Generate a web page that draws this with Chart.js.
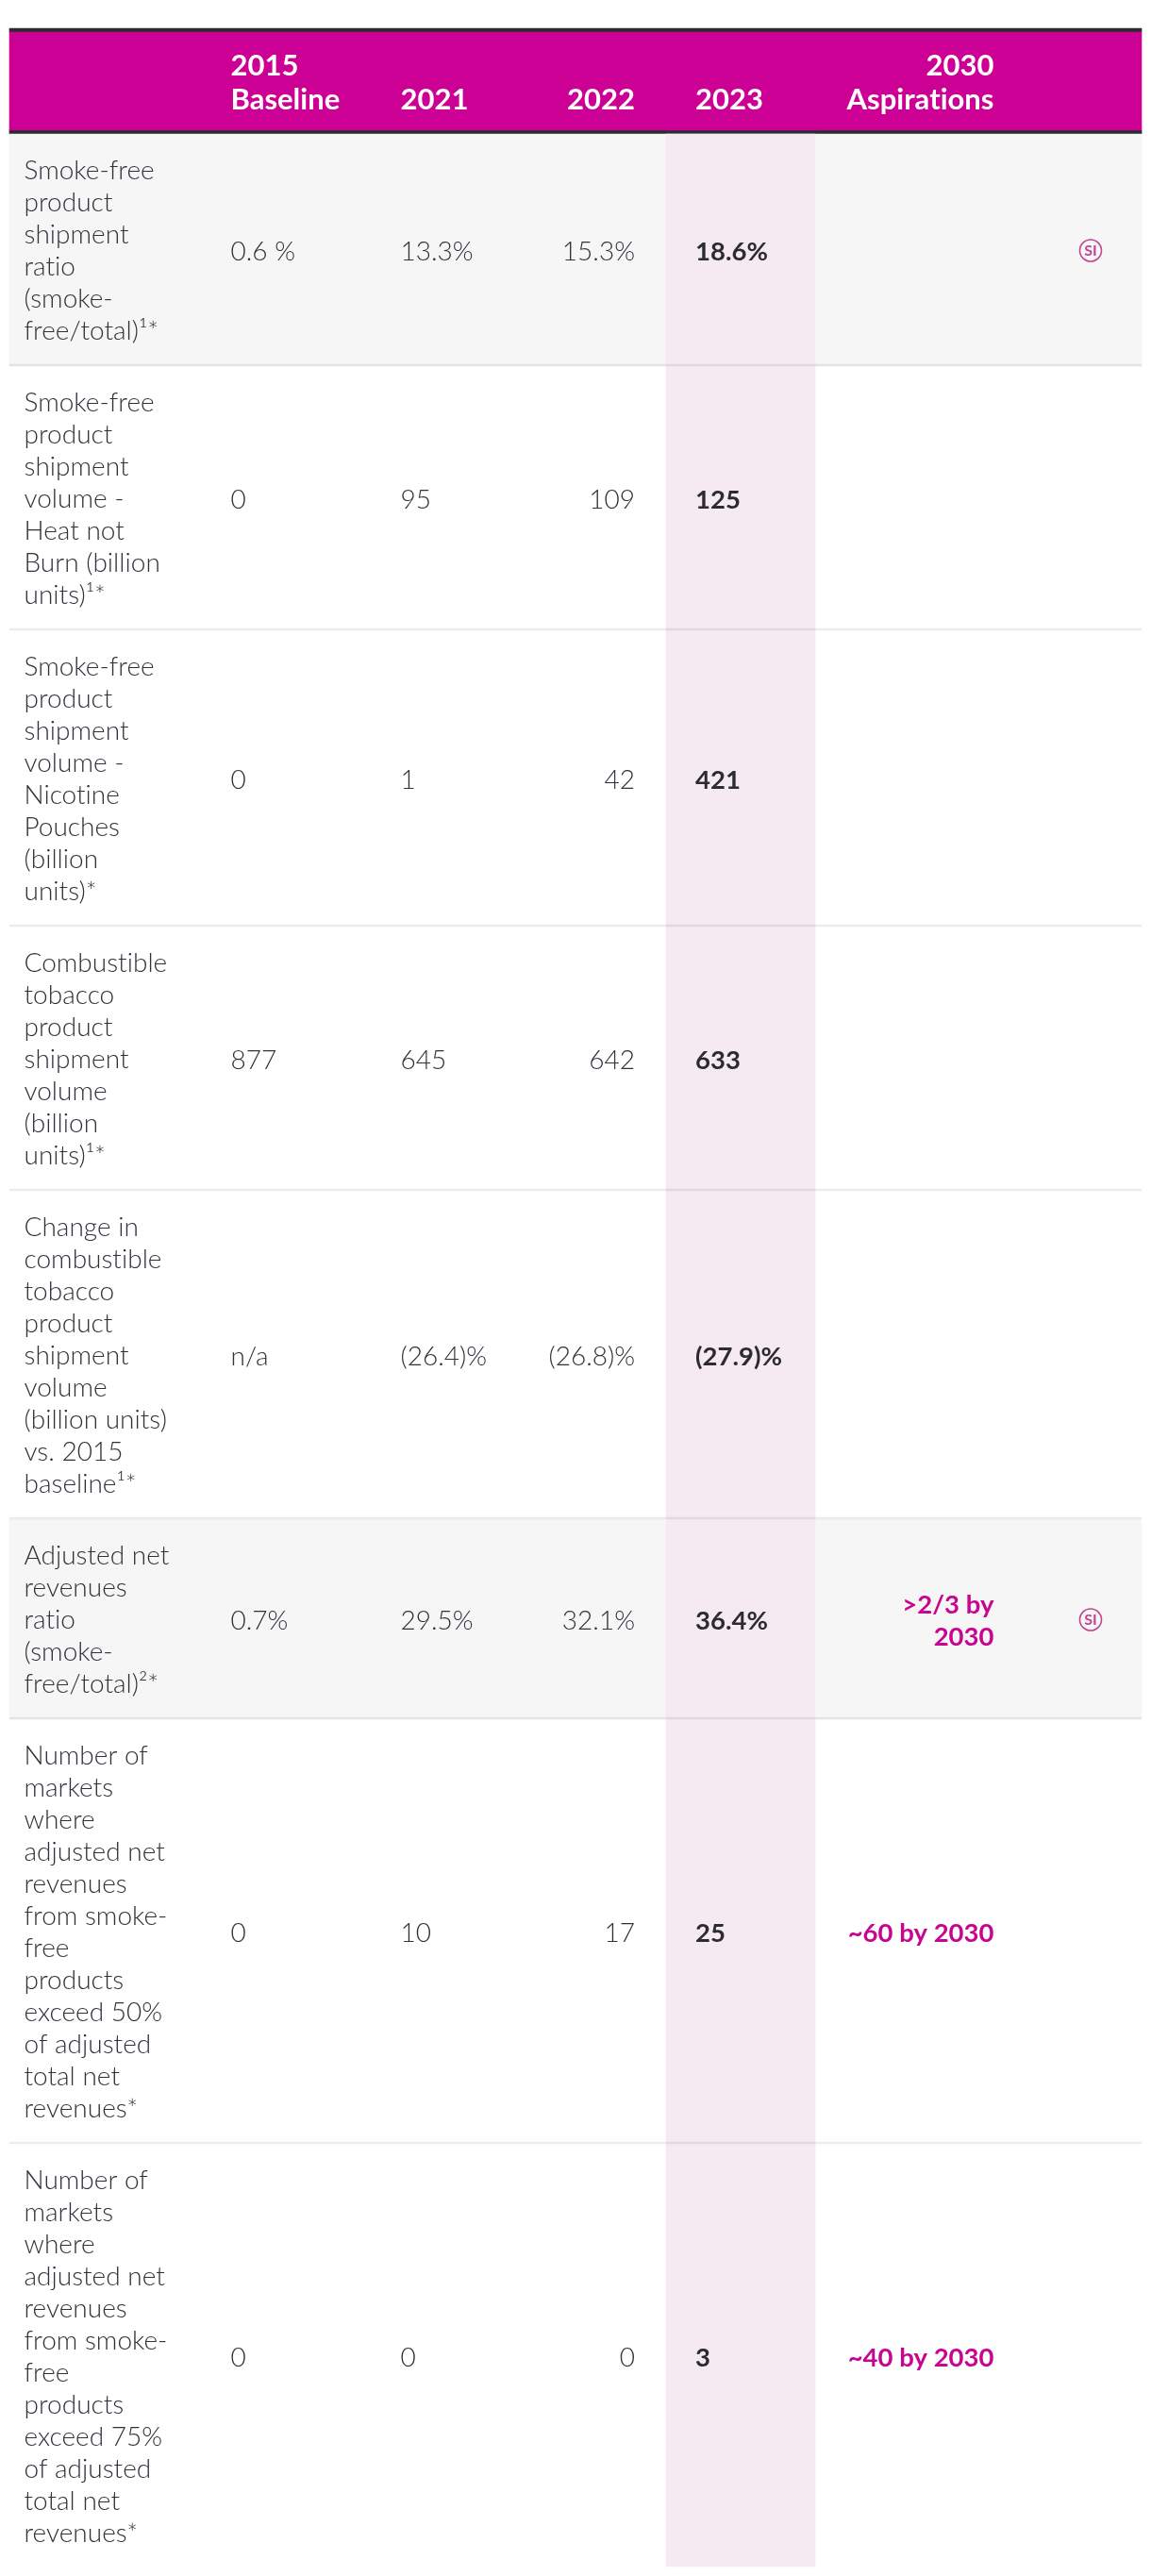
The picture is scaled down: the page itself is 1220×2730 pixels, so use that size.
<!DOCTYPE html>
<html>
<head>
<meta charset="utf-8">
<style>html,body{margin:0;padding:0;background:#fff}canvas{display:block}</style>
<script src="https://cdn.jsdelivr.net/npm/chart.js@4"></script>
</head>
<body>
<canvas id="c" width="1220" height="2730"></canvas>
<script>
const headers2015 = ["2015", "Baseline"];
const headers2021 = ["2021"];
const headers2022 = ["2022"];
const headers2023 = ["2023"];
const headers2030 = ["2030", "Aspirations"];
const rowLabels = [
  ["Smoke-free","product","shipment","ratio","(smoke-","free/total)¹*"],
  ["Smoke-free","product","shipment","volume -","Heat not","Burn (billion","units)¹*"],
  ["Smoke-free","product","shipment","volume -","Nicotine","Pouches","(billion","units)*"],
  ["Combustible","tobacco","product","shipment","volume","(billion","units)¹*"],
  ["Change in","combustible","tobacco","product","shipment","volume","(billion units)","vs. 2015","baseline¹*"],
  ["Adjusted net","revenues","ratio","(smoke-","free/total)²*"],
  ["Number of","markets","where","adjusted net","revenues","from smoke-","free","products","exceed 50%","of adjusted","total net","revenues*"],
  ["Number of","markets","where","adjusted net","revenues","from smoke-","free","products","exceed 75%","of adjusted","total net","revenues*"]
];
const baseline2015 = ["0.6 %","0","0","877","n/a","0.7%","0","0"];
const values2021 = ["13.3%","95","1","645","(26.4)%","29.5%","10","0"];
const values2022 = ["15.3%","109","42","642","(26.8)%","32.1%","17","0"];
const values2023 = ["18.6%","125","421","633","(27.9)%","36.4%","25","3"];
const aspirations2030 = [[],[],[],[],[],[">2/3 by","2030"],["~60 by 2030"],["~40 by 2030"]];
const siMarkers = [true,false,false,false,false,true,false,false];
const shadedRows = [true,false,false,false,false,true,false,false];

const MAGENTA = "#cc0094", DARK = "#2b2b30", TEXT = "#33303a";
const LH = 34, PAD = 42, HEAD_TOP = 34, HEAD_BOT = 138, BODY = 142;
const LIGHT = '300 28px "Lato"', BOLD = '700 27.5px "Lato"', HEAD = '700 31px "Lato"';

const tops = [], bottoms = [], centers = [];
let yy = BODY;
rowLabels.forEach((l, i) => {
  const h = l.length * LH + PAD;
  tops.push(yy); bottoms.push(yy + h); centers.push(yy + (h - 2) / 2); yy += h;
});
const END = 2720;
const X = {label: 25.5, b: 244.5, y21: 424.5, y22: 673, y23: 737, asp: 1053.5, si: 1156};
const col = (x, arr) => arr.map((v, i) => ({x, y: centers[i]}));
const bar = (cx, a, b) => ({x: cx, y: [a, b]});
const tableCx = 610, tableW = 1200, hiCx = 785, hiW = 158;

const datasets = [
  {type:'bar', label:'rule top', order:10, grouped:false, barThickness:tableW, backgroundColor:DARK, data:[bar(tableCx,30,34), bar(tableCx,138,142)]},
  {type:'bar', label:'header', order:9, grouped:false, barThickness:tableW, backgroundColor:MAGENTA, data:[bar(tableCx,HEAD_TOP,HEAD_BOT)]},
  {type:'bar', label:'shaded', order:8, grouped:false, barThickness:tableW, backgroundColor:"#f6f6f6",
    data:shadedRows.map((s,i)=> s ? bar(tableCx,tops[i],bottoms[i]) : null).filter(Boolean)},
  {type:'bar', label:'2023 highlight', order:7, grouped:false, barThickness:hiW, backgroundColor:"#f5e9f2", data:[bar(hiCx,BODY,END)]},
  {type:'bar', label:'rules', order:6, grouped:false, barThickness:tableW, backgroundColor:"rgba(0,0,0,0.075)",
    data:bottoms.slice(0,-1).map(b=>bar(tableCx,b-2,b))},
  {type:'scatter', label:'SI', order:5, pointRadius:0, pointHoverRadius:0, data:siMarkers.map((s,i)=> s ? {x:X.si,y:centers[i]+1.5} : null).filter(Boolean)},
  {type:'scatter', label:'labels', order:4, pointRadius:0, data:col(X.label,rowLabels)},
  {type:'scatter', label:'2015', order:3, pointRadius:0, data:col(X.b,baseline2015)},
  {type:'scatter', label:'2021', order:3, pointRadius:0, data:col(X.y21,values2021)},
  {type:'scatter', label:'2022', order:3, pointRadius:0, data:col(X.y22,values2022)},
  {type:'scatter', label:'2023', order:3, pointRadius:0, data:col(X.y23,values2023)},
  {type:'scatter', label:'2030', order:3, pointRadius:0, data:col(X.asp,aspirations2030)}
];

const tablePlugin = {
  id:'tableText',
  afterDatasetsDraw(chart){
    const ctx = chart.ctx, sx = chart.scales.x, sy = chart.scales.y;
    const metaOf = name => chart.getDatasetMeta(datasets.findIndex(d=>d.label===name)).data;
    const put = (t,x,y,font,color,align) => {
      ctx.font = font; ctx.fillStyle = color; ctx.textAlign = align; ctx.textBaseline = 'alphabetic';
      ctx.fillText(t,x,y);
    };
    ctx.save();
    if ('letterSpacing' in ctx) ctx.letterSpacing = '0.01px'; // keeps "ti" unligatured as in the source type
    const hb = [[headers2015,X.b,'left'],[headers2021,X.y21,'left'],[headers2022,X.y22,'right'],[headers2023,X.y23,'left'],[headers2030,X.asp,'right']];
    hb.forEach(([lines,x,al])=>{
      lines.forEach((t,k)=>{
        const line = k + (2 - lines.length);
        put(t, sx.getPixelForValue(x), sy.getPixelForValue(80 + line*36), HEAD, "#ffffff", al);
      });
    });
    metaOf('labels').forEach((pt,i)=>{
      rowLabels[i].forEach((t,k)=>{
        put(t, pt.x, sy.getPixelForValue(tops[i] + 48 + LH*k), LIGHT, TEXT, 'left');
      });
    });
    const cell = (name,arr,font,color,al) => metaOf(name).forEach((pt,i)=> put(arr[i], pt.x, pt.y + 12, font, color, al));
    cell('2015',baseline2015,LIGHT,TEXT,'left');
    cell('2021',values2021,LIGHT,TEXT,'left');
    cell('2022',values2022,LIGHT,TEXT,'right');
    cell('2023',values2023,BOLD,DARK,'left');
    metaOf('2030').forEach((pt,i)=>{
      const lines = aspirations2030[i], n = lines.length;
      lines.forEach((t,k)=> put(t, pt.x, pt.y + 12 + (k-(n-1)/2)*34, BOLD, "#c70590", 'right'));
    });
    metaOf('SI').forEach(pt=>{
      ctx.beginPath(); ctx.arc(pt.x,pt.y,11.5,0,Math.PI*2);
      ctx.lineWidth=1.6; ctx.strokeStyle="#c2458f"; ctx.stroke();
      ctx.font='700 16px "Lato"'; ctx.fillStyle="#c2458f"; ctx.textAlign='center'; ctx.textBaseline='middle';
      ctx.fillText("SI",pt.x,pt.y+0.5);
    });
    ctx.restore();
  }
};

function build(){
  new Chart(document.getElementById('c'),{
    type:'bar',
    data:{datasets},
    options:{
      responsive:false, animation:false, devicePixelRatio:1,
      layout:{padding:0},
      plugins:{legend:{display:false},tooltip:{enabled:false}},
      events:[],
      scales:{
        x:{type:'linear',min:0,max:1220,display:false,offset:false},
        y:{type:'linear',min:0,max:2730,reverse:true,display:false}
      }
    },
    plugins:[tablePlugin]
  });
}
if (document.fonts && document.fonts.load) {
  Promise.all([document.fonts.load(LIGHT),document.fonts.load(BOLD)]).then(build,build);
} else build();
</script>
</body>
</html>
